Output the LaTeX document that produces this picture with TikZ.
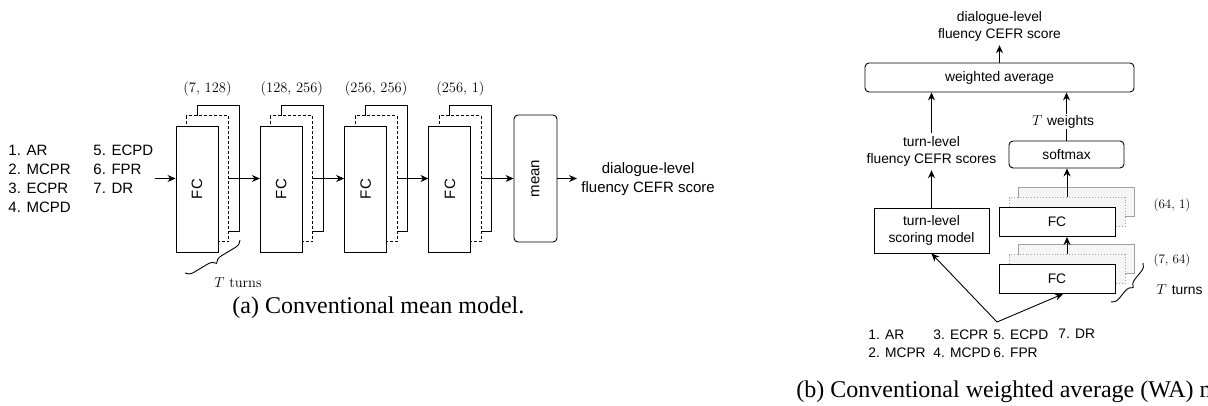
\documentclass[tikz,border=0pt]{standalone}
\usepackage{fontspec}
\setsansfont{Liberation Sans}
\newfontfamily\capfont{Liberation Serif}
\usetikzlibrary{arrows.meta,decorations.pathreplacing}
\definecolor{boxgray}{RGB}{245,245,245}
\definecolor{edgegray}{RGB}{160,160,160}

\begin{document}
\begin{tikzpicture}[x=1pt,y=-1pt,line width=0.9pt,
  arr/.style={-{Stealth[length=8pt,width=7pt]}},
  txt/.style={font=\sffamily\fontsize{15}{19}\selectfont,inner sep=0pt},
  rtxt/.style={font=\sffamily\fontsize{13.8}{17}\selectfont},
  dims/.style={font=\fontsize{14.5}{17}\selectfont,inner sep=0pt},
  fcbox/.style={draw,fill=white,minimum width=42pt,minimum height=126pt,inner sep=0pt},
  fcrbox/.style={draw,fill=white,minimum width=116pt,minimum height=29pt,inner sep=0pt},
  rbox/.style={draw,fill=white,rounded corners=4pt,inner sep=0pt},
  captxt/.style={font=\capfont\fontsize{24}{28}\selectfont,inner sep=0pt,anchor=base west},
  bracedec/.style={decorate,decoration={brace,amplitude=8pt}}]
\useasboundingbox (0,0) rectangle (1208,405);

% (a) mean model
  \foreach \t [count=\k] in {1. AR,2. MCPR,3. ECPR,4. MCPD}
    \node[txt,anchor=base west] (featA\k) at (8,136.4+19*\k) {\t};
  \foreach \t [count=\k] in {5. ECPD,6. FPR,7. DR}
    \node[txt,anchor=base west] (featB\k) at (93,136.4+19*\k) {\t};
  \foreach \i/\sz in {0/{(7, 128)},1/{(128, 256)},2/{(256, 256)},3/{(256, 1)}}
    {
     \pgfmathsetmacro{\xa}{176+84.3*\i}
     \node[fcbox] (fcB\i) at (\xa+42,168) {};
     \node[fcbox,dash pattern=on 3pt off 2pt] (fcM\i) at (\xa+31.5,178.5) {};
     \node[fcbox] (fcF\i) at (\xa+21,189) {};
     \node[txt,rotate=90] (fcT\i) at (fcF\i.center) {FC};
     \node[dims] (dim\i) at (\xa+31.5,89) {\sz};
    }
  \coordinate (in) at (155,178.5);
  \draw[arr] (in) -- (in -| fcF0.west);
  \foreach \i/\j in {0/1,1/2,2/3}
    \draw[arr] (fcM\i.east) -- (fcM\i.east -| fcF\j.west);
  \node[rbox,minimum width=43pt,minimum height=127pt] (mean) at (535.5,178.5) {};
  \node[txt,rotate=90] (meanT) at (mean.center) {mean};
  \draw[arr] (fcM3.east) -- (fcM3.east -| mean.west);
  \node[txt,align=center,anchor=west,inner sep=4pt] (dlev) at (577,179) {dialogue-level\\fluency CEFR score};
  \draw[arr] (mean.east) -- (mean.east -| dlev.west);
  \draw[bracedec] (240,240) -- (185,273);
  \node[dims] (turnsA) at (238,283) {$T$ turns};
  \node[captxt] (capA) at (232,313) {(a) Conventional mean model.};

% (b) weighted average model
  \node[rbox,rtxt,minimum width=269pt,minimum height=29pt] (wavg) at (999.5,77.5) {weighted average};
  \node[rtxt,align=center] (dlevR) at (999.5,26.5) {dialogue-level\\fluency CEFR score};
  \draw[arr] (wavg.north) -- (dlevR.south);
  \node[draw,fill=white,rtxt,align=center,minimum width=115pt,minimum height=45pt,inner sep=0pt] (tsm) at (931.5,230.5) {turn-level\\scoring model};
  \node[rtxt,align=center] (tlev) at (931.5,151.5) {turn-level\\fluency CEFR scores};
  \draw[arr] (tsm.north) -- (tlev.south);
  \draw[arr] (tlev.north) -- (tlev.north |- wavg.south);
  \node[rbox,rtxt,minimum width=115pt,minimum height=27pt] (smax) at (1066.5,154.5) {softmax};
  \draw[arr] (smax.north) -- node[pos=0.39,xshift=-3.5pt,fill=white,rtxt,inner sep=1pt] (tw) {$T$\hspace{5pt}weights} (smax.north |- wavg.south);
  \foreach \i/\yc in {1/279,2/222}
    {
     \node[fcrbox,draw=edgegray,fill=boxgray] (fcrB\i) at (1076.5,\yc-20) {};
     \node[fcrbox,draw=edgegray,fill=boxgray,dotted] (fcrM\i) at (1067,\yc-10) {};
     \node[fcrbox,rtxt] (fcrF\i) at (1057,\yc) {FC};
    }
  \draw[arr] (fcrM1.north) -- (fcrM1.north |- fcrF2.south);
  \draw[arr] (fcrM2.north) -- (fcrM2.north |- smax.south);
  \node[dims,font=\fontsize{13}{15}\selectfont] (dimR2) at (1172,205) {(64, 1)};
  \node[dims,font=\fontsize{13}{15}\selectfont] (dimR1) at (1172,260) {(7, 64)};
  \draw[bracedec] (1143,263) -- (1111,302);
  \node[rtxt,inner sep=0pt] (turnsB) at (1179.5,290) {$T$\hspace{5pt}turns};
  \foreach \t/\xx/\yy [count=\k] in {1. AR/868/339,2. MCPR/868/357,3. ECPR/933/339,4. MCPD/933/357,5. ECPD/993/339,6. FPR/993/357,7. DR/1058/338}
    \node[rtxt,inner sep=0pt,anchor=base west] (featR\k) at (\xx,\yy) {\t};
  \coordinate (apex) at (997,322);
  \draw[arr] (apex) -- (tsm.south);
  \draw[arr] (apex) -- ([xshift=6pt]fcrF1.south);
  \node[captxt] (capB) at (796,397) {(b) Conventional weighted average (WA) model.};
\end{tikzpicture}
\end{document}
